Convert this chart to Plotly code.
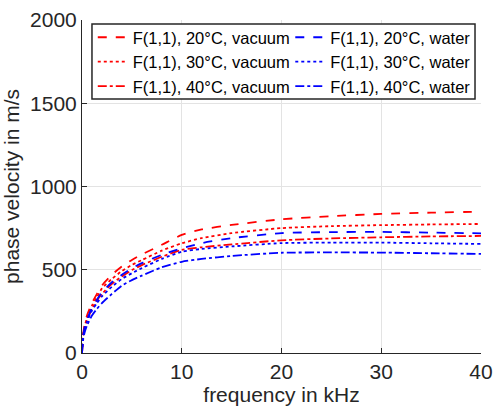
import plotly.graph_objects as go

freq_khz = [0, 0.1, 0.25, 0.5, 1, 1.5, 2, 3, 4, 5, 6, 8, 10, 12, 15, 20, 25, 30, 35, 40]

vac_20 = [0, 105, 165, 225, 300, 355, 405, 470, 520, 559, 592, 650, 709, 742, 769, 803, 822, 835, 843, 849]
vac_30 = [0, 100, 155, 210, 285, 335, 388, 445, 492, 529, 558, 615, 659, 690, 720, 750, 762, 768, 772, 775]
vac_40 = [0, 90, 145, 195, 265, 315, 355, 415, 460, 498, 528, 578, 619, 635, 652, 677, 688, 695, 700, 703]
wat_20 = [0, 95, 150, 200, 270, 320, 365, 425, 470, 509, 540, 590, 629, 660, 690, 720, 726, 727, 723, 719]
wat_30 = [0, 85, 140, 188, 255, 300, 340, 398, 445, 479, 510, 565, 608, 625, 640, 660, 663, 663, 659, 655]
wat_40 = [0, 75, 120, 165, 225, 265, 300, 355, 405, 438, 465, 515, 548, 565, 583, 602, 604, 603, 599, 595]

series = [
    ("F(1,1), 20°C, vacuum", vac_20, "#ff0000", "dash", "legend"),
    ("F(1,1), 30°C, vacuum", vac_30, "#ff0000", "dot", "legend"),
    ("F(1,1), 40°C, vacuum", vac_40, "#ff0000", "dashdot", "legend"),
    ("F(1,1), 20°C, water", wat_20, "#0000ff", "dash", "legend2"),
    ("F(1,1), 30°C, water", wat_30, "#0000ff", "dot", "legend2"),
    ("F(1,1), 40°C, water", wat_40, "#0000ff", "dashdot", "legend2"),
]

fig = go.Figure()
for name, vals, color, dash, leg in series:
    fig.add_trace(go.Scatter(
        x=freq_khz, y=vals, name=name, mode="lines", legend=leg,
        line=dict(color=color, dash=dash, width=1.8, shape="spline", smoothing=0.6),
    ))

axis_common = dict(
    showgrid=True, gridcolor="#e3e3e3", gridwidth=1,
    showline=True, linecolor="#262626", linewidth=1,
    ticks="inside", ticklen=5, tickcolor="#262626",
    zeroline=False, automargin=False, tickfont=dict(size=21, color="#262626"),
)

legend_common = dict(
    orientation="v", y=1.0, xanchor="left", yanchor="top",
    bgcolor="rgba(0,0,0,0)", borderwidth=0,
    font=dict(size=16.5, color="#000000"),
    itemwidth=30, tracegroupgap=0,
)

fig.update_layout(
    width=494, height=410,
    margin=dict(l=82, r=13, t=20, b=57),
    paper_bgcolor="white", plot_bgcolor="white",
    font=dict(family="Arial, Liberation Sans, sans-serif", color="#262626"),
    xaxis=dict(range=[0, 40], tickvals=[0, 10, 20, 30, 40],
               title=dict(text="frequency in kHz", font=dict(size=21), standoff=2),
               **axis_common),
    yaxis=dict(range=[0, 2000], tickvals=[0, 500, 1000, 1500, 2000],
               title=dict(text="phase velocity in m/s", font=dict(size=21), standoff=4),
               **axis_common),
    legend=dict(x=0.027, **legend_common),
    legend2=dict(x=0.522, **legend_common),
    shapes=[dict(
        type="rect", xref="paper", yref="paper",
        x0=0.025, x1=0.985, y0=0.763, y1=0.988,
        line=dict(color="#262626", width=1.5), fillcolor="white", layer="above",
    )],
    showlegend=True,
)

fig.write_html("out.html")
